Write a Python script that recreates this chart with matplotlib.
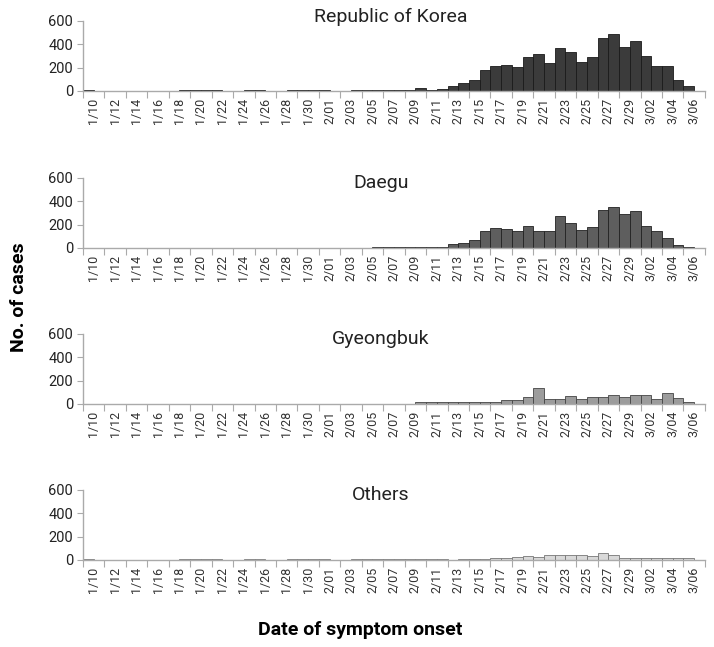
import matplotlib
matplotlib.use('Agg')
import matplotlib.pyplot as plt
import numpy as np
import pandas as pd

plt.rcParams['font.family'] = ['Roboto', 'DejaVu Sans']

# one category per day of symptom onset, 1/10 .. 3/07 (2020)
dates = pd.date_range('2020-01-10', '2020-03-07', freq='D')
day_labels = [f'{d.month}/{d.day:02d}' for d in dates]

korea = [8, 0, 0, 0, 0, 0, 0, 0, 0, 8,
         8, 8, 8, 0, 0, 8, 8, 0, 0, 8,
         8, 8, 8, 0, 0, 8, 8, 8, 8, 8,
         10, 22, 8, 20, 40, 71, 94, 183, 211, 226,
         206, 291, 314, 240, 363, 337, 249, 289, 452, 483,
         380, 426, 303, 211, 211, 94, 40, 0]
daegu = [0] * 27 + [8, 8, 8, 8, 8, 10, 10,
                    31, 39, 65, 144, 175, 166, 144, 192, 144, 144,
                    270, 217, 158, 183, 327, 352, 287, 315, 192, 149,
                    85, 25, 12, 0]
gyeongbuk = [0] * 31 + [15, 15, 15, 15, 15, 15, 15, 15,
                        37, 37, 60, 134, 43, 43, 68, 43, 60, 60,
                        77, 60, 77, 77, 43, 97, 51, 17, 0]
others = [8, 0, 0, 0, 0, 0, 0, 0, 0, 8,
          8, 8, 8, 0, 0, 8, 8, 0, 0, 8,
          8, 8, 8, 0, 0, 8, 8, 8, 8, 8,
          8, 8, 8, 8, 0, 10, 10, 10, 20, 20,
          28, 37, 28, 45, 45, 45, 45, 37, 62, 45,
          20, 20, 20, 20, 20, 20, 20, 0]

# name, values, face colour, edge colour, title position (axes fraction)
panels = [
    ('Republic of Korea', korea, '#3b3b3b', '#1a1a1a', 0.495, 1.06),
    ('Daegu', daegu, '#5e5e5e', '#222222', 0.479, 0.92),
    ('Gyeongbuk', gyeongbuk, '#9c9c9c', '#444444', 0.479, 0.92),
    ('Others', others, '#d9d9d9', '#777777', 0.479, 0.93),
]
bottoms = [0.8594, 0.6167, 0.3756, 0.1345]

fig = plt.figure(figsize=(7.14, 6.47), dpi=100)
x = np.arange(len(dates))

for (name, vals, fc, ec, tx, ty), b in zip(panels, bottoms):
    ax = fig.add_axes([0.1162, b, 0.871, 0.1085])
    ax.bar(x, vals, width=1.0, color=fc, edgecolor=ec, linewidth=0.6)
    ax.set_xlim(-0.5, len(dates) - 0.5)
    ax.set_ylim(0, 600)
    ax.set_yticks([0, 200, 400, 600])
    ax.tick_params(axis='y', labelsize=10.5, length=4, color='#aaaaaa',
                   labelcolor='#222222', pad=3)
    # tick marks between every second pair of days, labels centred in each pair
    ax.set_xticks(np.arange(-0.5, len(dates), 2))
    ax.set_xticklabels([])
    ax.set_xticks(np.arange(0.5, len(dates), 2), minor=True)
    ax.set_xticklabels(day_labels[::2], minor=True, rotation=90)
    ax.tick_params(axis='x', which='major', length=5, color='#aaaaaa')
    ax.tick_params(axis='x', which='minor', length=0, labelsize=9,
                   labelcolor='#333333', pad=5)
    for s in ['top', 'right']:
        ax.spines[s].set_visible(False)
    for s in ['left', 'bottom']:
        ax.spines[s].set_color('#aaaaaa')
        ax.spines[s].set_linewidth(1.0)
    ax.text(tx, ty, name, transform=ax.transAxes, ha='center', va='center',
            fontsize=14, color='#222222')

fig.text(0.026, 0.54, 'No. of cases', rotation=90, ha='center', va='center',
         fontsize=14, fontweight='bold')
fig.text(0.505, 0.027, 'Date of symptom onset', ha='center', va='center',
         fontsize=14, fontweight='bold')

fig.savefig('out.png', dpi=100)
